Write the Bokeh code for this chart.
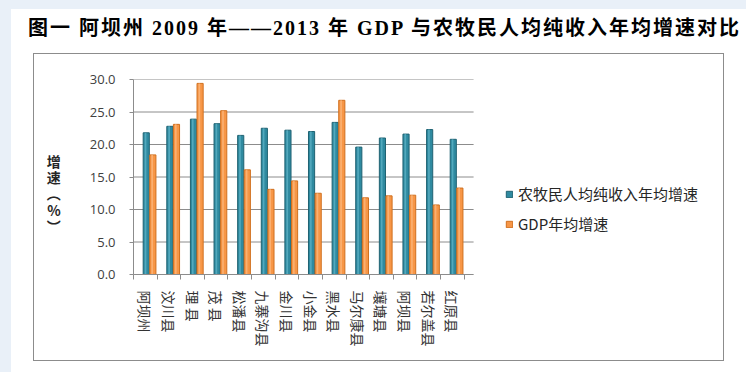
from bokeh.plotting import figure
from bokeh.layouts import column
from bokeh.models import (Range1d, FixedTicker, CustomJSTickFormatter, PrintfTickFormatter,
                          Legend, LegendItem, ColumnDataSource, Div)
from bokeh.transform import dodge
from bokeh.embed import file_html
from bokeh.resources import INLINE

# ---------------- data ----------------
counties = ["阿坝州", "汶川县", "理 县", "茂 县", "松潘县", "九寨沟县", "金川县",
            "小金县", "黑水县", "马尔康县", "壤塘县", "阿坝县", "若尔盖县", "红原县"]
income_growth = [21.8, 22.8, 23.9, 23.2, 21.4, 22.5, 22.2, 22.0, 23.4, 19.6, 21.0, 21.6, 22.3, 20.8]
gdp_growth = [18.4, 23.1, 29.4, 25.2, 16.1, 13.1, 14.4, 12.5, 26.8, 11.8, 12.1, 12.2, 10.7, 13.3]
series_names = ["农牧民人均纯收入年均增速", "GDP年均增速"]
y_ticks = [0, 5, 10, 15, 20, 25, 30]
title_text = "图一 阿坝州 2009 年——2013 年 GDP 与农牧民人均纯收入年均增速对比"
y_title = "增\n速\n︵\n%\n︶"

# ---------------- styles ----------------
BLUE = "#2f8aa0"
BLUE_EDGE = "#1f6272"
BLUE_LIGHT = "#5db0c4"
ORANGE = "#f79646"
ORANGE_EDGE = "#d0701f"
ORANGE_LIGHT = "#fbb77c"
GRID = "#8c8c8c"
CJK = "Noto Sans CJK SC"

n = len(counties)
plot_end = n + 0.4          # where the category area (floor / grid) ends
src = ColumnDataSource(dict(
    x=[i + 0.5 for i in range(n)],
    county=counties,
    income=income_growth,
    gdp=gdp_growth,
))

p = figure(width=691, height=308, output_backend="svg", toolbar_location=None,
           x_range=Range1d(0, 24.94), y_range=Range1d(0, 30),
           min_border_left=99, min_border_right=3, min_border_top=25, min_border_bottom=88)
p.margin = (0, 0, 0, 33)
p.styles = {"border": "1px solid #8c8c8c", "box-sizing": "border-box"}
p.background_fill_color = "white"
p.border_fill_color = "white"
p.outline_line_color = None

# horizontal grid lines (only across the category area)
p.segment(x0=[0] * len(y_ticks), x1=[plot_end] * len(y_ticks), y0=y_ticks, y1=y_ticks,
          line_color=GRID, line_width=1)

r1 = p.vbar(x=dodge("x", 0.04, range=p.x_range), top="income", width=0.26, source=src,
            fill_color=BLUE, line_color=BLUE_EDGE, line_width=1)
r2 = p.vbar(x=dodge("x", 0.32, range=p.x_range), top="gdp", width=0.26, source=src,
            fill_color=ORANGE, line_color=ORANGE_EDGE, line_width=1)
# cylinder-like highlight stripe on each bar
p.vbar(x=dodge("x", 0.01, range=p.x_range), top="income", width=0.07, source=src,
       fill_color=BLUE_LIGHT, line_color=None, fill_alpha=0.8)
p.vbar(x=dodge("x", 0.29, range=p.x_range), top="gdp", width=0.07, source=src,
       fill_color=ORANGE_LIGHT, line_color=None, fill_alpha=0.8)

# x axis
xa = p.xaxis[0]
xa.bounds = (0, plot_end)
xa.ticker = FixedTicker(ticks=[i + 0.5 for i in range(n)], minor_ticks=list(range(n + 1)))
xa.formatter = CustomJSTickFormatter(args=dict(labels=counties),
                                     code="const i = Math.floor(tick); return (i >= 0 && i < labels.length) ? labels[i] : '';")
xa.major_label_orientation = "vertical"
xa.major_tick_out = 0
xa.major_tick_in = 0
xa.minor_tick_out = 5
xa.minor_tick_in = 0
xa.minor_tick_line_color = GRID
xa.axis_line_color = GRID
xa.major_label_text_font = CJK
xa.major_label_text_font_size = "14px"
xa.major_label_text_color = "#333333"
xa.major_label_standoff = 11

# y axis
ya = p.yaxis[0]
ya.ticker = FixedTicker(ticks=y_ticks)
ya.formatter = PrintfTickFormatter(format="%.1f")
ya.major_tick_out = 4
ya.major_tick_in = 0
ya.minor_tick_line_color = None
ya.major_tick_line_color = GRID
ya.axis_line_color = GRID
ya.major_label_text_font = "Open Sans"
ya.major_label_text_font_size = "13px"
ya.major_label_text_color = "#404040"
ya.major_label_standoff = 14
ya.axis_label = "\n\n" + y_title
ya.axis_label_orientation = "horizontal"
ya.axis_label_standoff = 26
ya.axis_label_text_font = CJK
ya.axis_label_text_font_size = "14px"
ya.axis_label_text_font_style = "bold"
ya.axis_label_text_color = "#262626"
ya.axis_label_text_line_height = 0.82

p.xgrid.grid_line_color = None
p.ygrid.grid_line_color = None

# legend
legend = Legend(items=[LegendItem(label=series_names[0], renderers=[r1]),
                       LegendItem(label=series_names[1], renderers=[r2])],
                location=(372, 40), orientation="vertical",
                glyph_width=8, glyph_height=8, label_height=20, spacing=9,
                label_standoff=5, padding=0, margin=0,
                border_line_color=None, background_fill_alpha=0,
                label_text_font=CJK, label_text_font_size="15px", label_text_color="#262626")
p.add_layout(legend)

# title
title = Div(text=title_text, width=735, height=44, margin=(9, 0, 0, 11),
            styles={"padding-left": "17px", "padding-top": "6px", "line-height": "26px",
                    "font-size": "20px", "font-weight": "bold", "white-space": "nowrap",
                    "letter-spacing": "2px",
                    "font-family": "'Liberation Serif', 'Noto Sans CJK SC', serif",
                    "color": "#000000", "overflow": "hidden"})

layout = column(title, p, spacing=0)

html = file_html(layout, INLINE, title="chart")
style = ("<style>html{background:linear-gradient(to right,#e9f0f8 11px,transparent 11px),"
         "linear-gradient(#e9f0f8 9px,#ffffff 9px) !important;}body{background:transparent !important;}</style>")
html = html.replace("</head>", style + "</head>", 1)
open("out.html", "w").write(html)
